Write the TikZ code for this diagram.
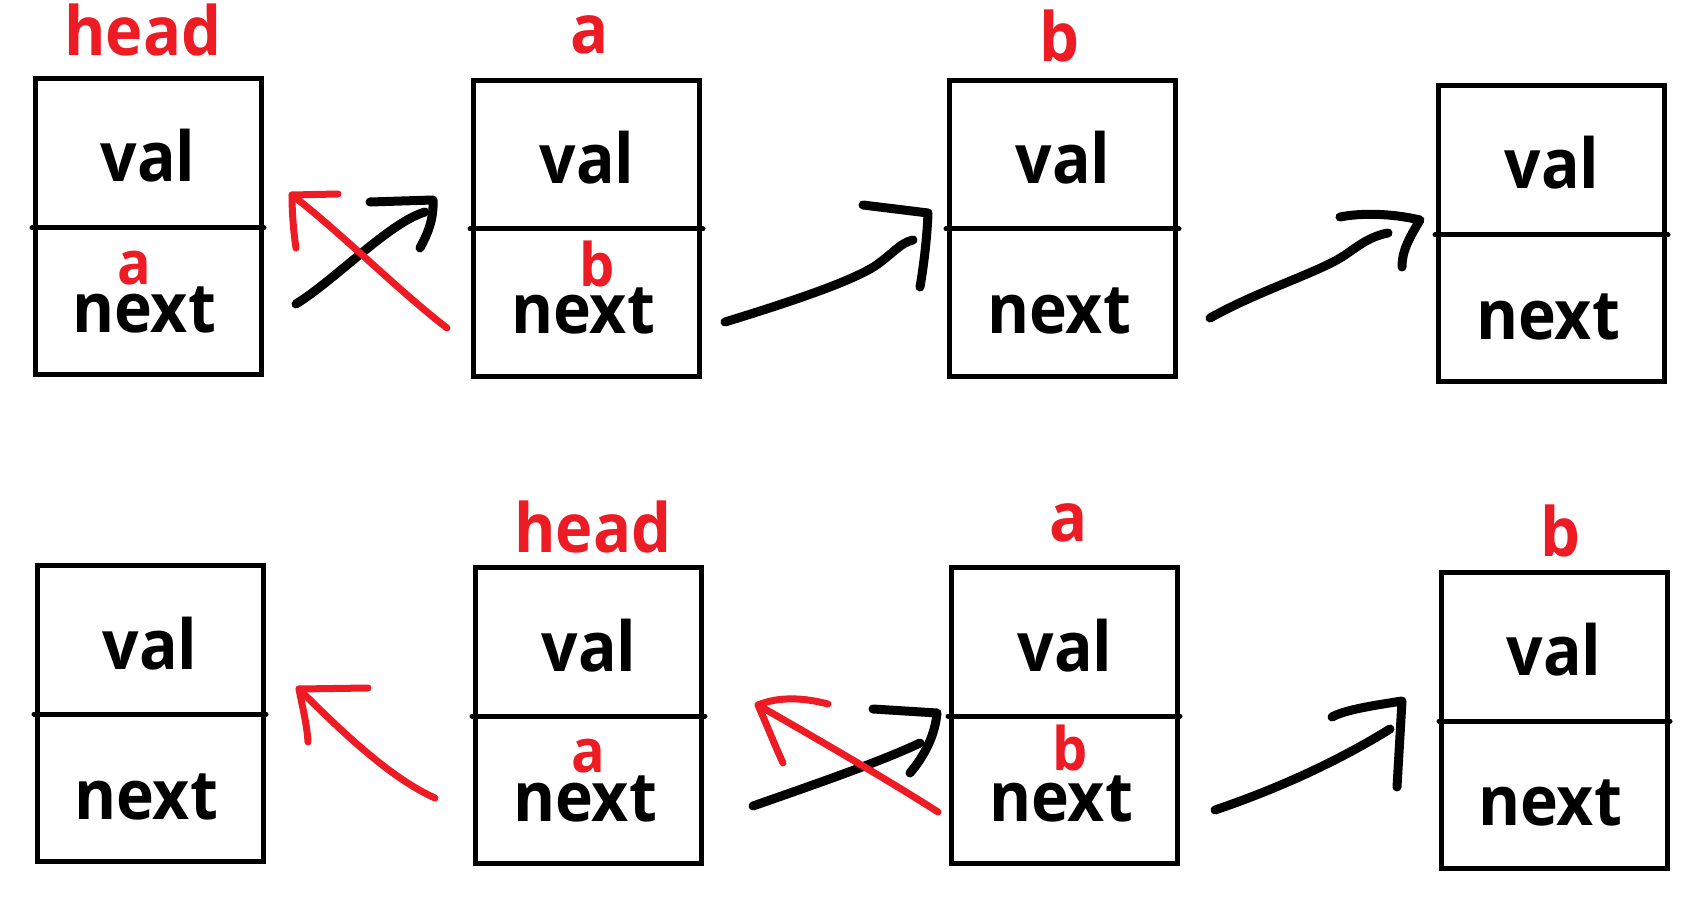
\documentclass[tikz,border=0pt]{standalone}
\usepackage{fontspec}
\setmainfont{Open Sans}
\newfontfamily\lblfont{Open Sans}[FakeStretch=0.93]
\definecolor{pred}{RGB}{237,28,36}
\begin{document}
\begin{tikzpicture}[x=1pt,y=-1pt,
  box/.style={draw=black,line width=5pt,rectangle,inner sep=0pt,minimum width=226pt,minimum height=296pt},
  divl/.style={line width=5pt,line cap=round},
  word/.style={anchor=base,inner sep=0pt,font=\lblfont\fontsize{69}{80}\selectfont\bfseries},
  redtop/.style={anchor=base,inner sep=0pt,text=pred,font=\lblfont\fontsize{68}{80}\selectfont\bfseries},
  redin/.style={anchor=base,inner sep=0pt,text=pred,font=\lblfont\fontsize{60}{70}\selectfont\bfseries},
  blk/.style={draw=black,line width=9pt,line cap=round,line join=round},
  rd/.style={draw=pred,line width=7pt,line cap=round,line join=round}]
\useasboundingbox (0,0) rectangle (1703,901);

% ---------- row 1 boxes ----------
\node[box] (B1) at (148,226.5) {};
\node[box] (B2) at (586.5,228.5) {};
\node[box] (B3) at (1062.5,228.5) {};
\node[box] (B4) at (1551.5,233.5) {};
\draw[divl] (32,228) -- (264,228);
\draw[divl] (470,229) -- (703,229);
\draw[divl] (946,229) -- (1179,229);
\draw[divl] (1435,235) -- (1668,235);

% ---------- row 2 boxes ----------
\node[box] (B5) at (150,713) {};
\node[box] (B6) at (588.5,715.5) {};
\node[box] (B7) at (1064,715.5) {};
\node[box] (B8) at (1554,720) {};
\draw[divl] (34,714) -- (266,714);
\draw[divl] (472,716) -- (705,716);
\draw[divl] (948,716) -- (1180,716);
\draw[divl] (1439,721) -- (1670,721);

% ---------- box texts ----------
\node[word] (v1) at (148,182) {val};
\node[word] (n1) at (144,333) {next};
\node[word] (v2) at (587,184) {val};
\node[word] (n2) at (583,334) {next};
\node[word] (v3) at (1063,184) {val};
\node[word] (n3) at (1059,334) {next};
\node[word] (v4) at (1552,189) {val};
\node[word] (n4) at (1548,340) {next};
\node[word] (v5) at (150,669) {val};
\node[word] (n5) at (146,819) {next};
\node[word] (v6) at (589,671) {val};
\node[word] (n6) at (585,821) {next};
\node[word] (v7) at (1065,671) {val};
\node[word] (n7) at (1061,821) {next};
\node[word] (v8) at (1554,675) {val};
\node[word] (n8) at (1550,825) {next};

% ---------- red labels ----------
\node[redtop] (h1) at (143,56) {head};
\node[redtop] (la1) at (590,54) {a};
\node[redtop] (lb1) at (1059,62) {b};
\node[redin] (ia1) at (134,285) {a};
\node[redin] (ib1) at (597,287) {b};
\node[redtop] (h2) at (593,552) {head};
\node[redtop] (la2) at (1069,541) {a};
\node[redtop] (lb2) at (1560,556) {b};
\node[redin] (ia2) at (588,772) {a};
\node[redin] (ib2) at (1070,770) {b};

% ---------- arrow coordinates ----------
\coordinate (k1s) at (296,304); \coordinate (k1e) at (425,212);
\coordinate (k1l) at (370,202); \coordinate (k1t) at (433,200); \coordinate (k1d) at (420,248);
\coordinate (r1s) at (447,328); \coordinate (r1t) at (292,195);
\coordinate (r1r) at (338,194); \coordinate (r1d) at (296,248);
\coordinate (k2s) at (725,322); \coordinate (k2m) at (875,266); \coordinate (k2e) at (913,240);
\coordinate (k2l) at (863,205); \coordinate (k2t) at (928,213); \coordinate (k2d) at (920,287);
\coordinate (k3s) at (1210,318); \coordinate (k3m) at (1345,255); \coordinate (k3e) at (1388,233);
\coordinate (k3l) at (1340,217); \coordinate (k3t) at (1420,220); \coordinate (k3d) at (1402,267);
\coordinate (r2s) at (435,798); \coordinate (r2t) at (299,689);
\coordinate (r2r) at (368,688); \coordinate (r2d) at (308,742);
\coordinate (k4s) at (753,806); \coordinate (k4e) at (920,743);
\coordinate (k4l) at (873,709); \coordinate (k4t) at (937,713); \coordinate (k4d) at (910,773);
\coordinate (r3s) at (938,812); \coordinate (r3t) at (758,705);
\coordinate (r3r) at (828,704); \coordinate (r3d) at (783,763);
\coordinate (k5s) at (1215,810); \coordinate (k5e) at (1390,729);
\coordinate (k5l) at (1332,717); \coordinate (k5t) at (1402,701); \coordinate (k5d) at (1397,787);

% ---------- black arrows ----------
\draw[blk] (k1s) .. controls (335,280) and (390,222) .. (k1e);
\draw[blk] (k1l) -- (k1t) .. controls (434,220) and (427,235) .. (k1d);
\draw[blk] (k2s) .. controls (790,302) and (850,282) .. (k2m) .. controls (895,252) and (900,243) .. (k2e);
\draw[blk] (k2l) -- (k2t) .. controls (927,240) and (923,270) .. (k2d);
\draw[blk] (k3s) .. controls (1260,290) and (1320,272) .. (k3m) .. controls (1362,243) and (1372,236) .. (k3e);
\draw[blk] (k3l) .. controls (1360,213) and (1390,213) .. (k3t) .. controls (1410,237) and (1402,250) .. (k3d);
\draw[blk] (k4s) .. controls (810,786) and (880,762) .. (k4e);
\draw[blk] (k4l) -- (k4t) .. controls (935,735) and (925,755) .. (k4d);
\draw[blk] (k5s) .. controls (1280,788) and (1340,760) .. (k5e);
\draw[blk] (k5l) .. controls (1345,710) and (1370,706) .. (k5t) -- (k5d);

% ---------- red arrows ----------
\draw[rd] (r1s) .. controls (400,292) and (340,232) .. (r1t);
\draw[rd] (r1r) -- (r1t) .. controls (292,215) and (294,235) .. (r1d);
\draw[rd] (r2s) .. controls (390,778) and (340,730) .. (r2t);
\draw[rd] (r2r) -- (r2t) .. controls (303,710) and (307,725) .. (r2d);
\draw[rd] (r3s) .. controls (880,775) and (810,735) .. (r3t);
\draw[rd] (r3r) .. controls (805,698) and (780,696) .. (r3t) .. controls (768,728) and (776,748) .. (r3d);
\end{tikzpicture}
\end{document}
